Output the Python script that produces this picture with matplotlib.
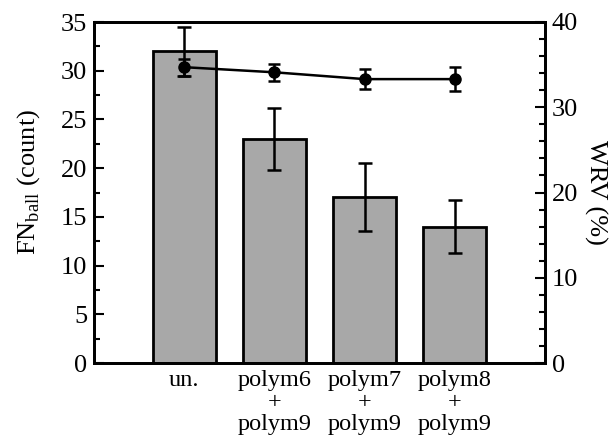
import matplotlib
matplotlib.use("Agg")
import matplotlib.pyplot as plt
from matplotlib.ticker import MultipleLocator

plt.rcParams['font.family'] = ['Liberation Serif', 'DejaVu Serif']
plt.rcParams['mathtext.fontset'] = 'custom'
plt.rcParams['mathtext.rm'] = 'Liberation Serif'

categories = ["un.", "polym6\n+\npolym9", "polym7\n+\npolym9", "polym8\n+\npolym9"]
fn_ball = [32.0, 23.0, 17.0, 14.0]
fn_ball_err = [2.5, 3.2, 3.5, 2.7]
wrv = [34.7, 34.1, 33.3, 33.3]
wrv_err = [1.0, 1.0, 1.15, 1.45]

fig = plt.figure(figsize=(6.15, 4.38), dpi=100)
ax = fig.add_axes([94/615, 1 - 363/438, (545-94)/615, (363-22)/438])
x = list(range(len(categories)))

ax.bar(x, fn_ball, width=0.7, color='#a8a8a8', edgecolor='black', linewidth=2, zorder=2)
ax.errorbar(x, fn_ball, yerr=fn_ball_err, fmt='none', ecolor='black',
            elinewidth=1.8, capsize=5, capthick=1.8, zorder=3)
ax.set_xlim(-1, 4)
ax.set_ylim(0, 35)
ax.yaxis.set_major_locator(MultipleLocator(5))
ax.yaxis.set_minor_locator(MultipleLocator(2.5))
ax.set_xticks(x)
ax.set_xticklabels(categories, fontsize=17.5, linespacing=1.05, va='top')
ax.tick_params(axis='x', length=0, pad=5)
ax.tick_params(axis='y', which='major', direction='in', length=7, width=1.5, labelsize=19, pad=5)
ax.tick_params(axis='y', which='minor', direction='in', length=4, width=1.5)
ax.set_ylabel(r"FN$_{\mathrm{ball}}$ (count)", fontsize=19)
ax.yaxis.set_label_coords(-0.115, 0.53)
for s in ax.spines.values():
    s.set_linewidth(2)

ax2 = ax.twinx()
ax2.errorbar(x, wrv, yerr=wrv_err, fmt='-o', color='black', markersize=8,
             linewidth=1.8, elinewidth=1.8, capsize=4, capthick=1.8, zorder=4)
ax2.set_ylim(0, 40)
ax2.yaxis.set_major_locator(MultipleLocator(10))
ax2.yaxis.set_minor_locator(MultipleLocator(2))
ax2.tick_params(axis='y', which='major', direction='in', length=7, width=1.5, labelsize=19, pad=5)
ax2.tick_params(axis='y', which='minor', direction='in', length=4, width=1.5)
ax2.set_ylabel("WRV (%)", fontsize=19, rotation=270, labelpad=21)
for s in ax2.spines.values():
    s.set_linewidth(2)

fig.savefig("out.png", dpi=100)
